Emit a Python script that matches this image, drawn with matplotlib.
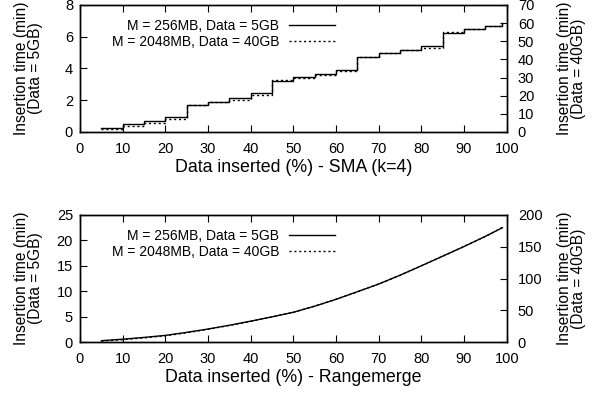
import numpy as np
import matplotlib
matplotlib.use('Agg')
import matplotlib.pyplot as plt

# Data inserted (%) at each measurement
pct = [5, 10, 15, 20, 25, 30, 35, 40, 45, 50, 55, 60, 65, 70, 75, 80, 85, 90, 95, 99]

# SMA (k=4): insertion time, minutes
sma_5gb = [0.27, 0.48, 0.67, 0.94, 1.70, 1.92, 2.12, 2.44, 3.23, 3.44,
           3.66, 3.91, 4.71, 4.96, 5.17, 5.42, 6.25, 6.47, 6.67, 6.88]
sma_40gb = [1.75, 3.15, 4.8, 7.2, 14.7, 16.5, 17.8, 20.4, 28.5, 30.0,
            31.6, 33.6, 41.5, 43.3, 45.0, 46.5, 55.0, 56.8, 58.5, 60.3]

# Rangemerge: insertion time, minutes
rm_5gb = [0.26, 0.55, 0.9, 1.3, 1.9, 2.55, 3.3, 4.1, 4.95, 5.85,
          7.05, 8.4, 9.9, 11.4, 13.15, 15.0, 16.9, 18.8, 20.8, 22.5]
rm_40gb = [1.5, 3.6, 6.5, 9.8, 14.5, 20.0, 26.0, 32.5, 39.5, 46.8,
           56.5, 67.3, 79.0, 91.5, 105.0, 120.0, 135.0, 150.5, 166.0, 180.5]

label_a = 'M = 256MB, Data = 5GB'
label_b = 'M = 2048MB, Data = 40GB'

plt.rcParams['font.family'] = ['Liberation Sans', 'DejaVu Sans']

fig = plt.figure(figsize=(5.97, 3.96), dpi=100)
W, H = 597.0, 396.0


def make_panel(top_px, y_left, y_right, ylim_l, yt_l, ylim_r, yt_r, xlabel, steps):
    ax = fig.add_axes([80 / W, 1 - (top_px + 127) / H, 426.7 / W, 127 / H])
    ax2 = ax.twinx()
    ds = 'steps-post' if steps else 'default'
    l1, = ax.plot(pct, y_left, color='black', lw=1.0, drawstyle=ds)
    l2, = ax2.plot(pct, y_right, color='black', lw=1.0, ls=(0, (1.5, 2)), drawstyle=ds)
    ax.set_xlim(0, 100)
    ax.set_xticks(range(0, 101, 10))
    ax.set_ylim(*ylim_l)
    ax.set_yticks(yt_l)
    ax2.set_ylim(*ylim_r)
    ax2.set_yticks(yt_r)
    ax.tick_params(axis='x', direction='in', length=5, width=0.8, top=True,
                   labelsize=10.5, pad=7)
    ax.tick_params(axis='y', direction='in', length=5, width=0.8,
                   labelsize=10.5, pad=5)
    ax2.tick_params(direction='in', length=5, width=0.8, labelsize=10.5, pad=8)
    for a in (ax, ax2):
        for s in a.spines.values():
            s.set_linewidth(1.0)
    ax.set_xlabel(xlabel, fontsize=12.8)
    ax.xaxis.set_label_coords(0.5, -0.215)
    ax.set_ylabel('Insertion time (min)\n(Data = 5GB)', fontsize=11.2, linespacing=0.9)
    ax.yaxis.set_label_coords(-0.087, 0.5)
    ax2.set_ylabel('Insertion time (min)\n(Data = 40GB)', fontsize=11.2, linespacing=0.9)
    ax2.yaxis.set_label_coords(1.118, 0.5)
    leg = ax2.legend([l1, l2], [label_a, label_b], loc='upper right',
                     bbox_to_anchor=(0.617, 0.955), frameon=False,
                     markerfirst=False, handlelength=3.3, fontsize=10,
                     labelspacing=0.15, handletextpad=0.7, borderaxespad=0.2)
    for t in leg.get_texts():
        t.set_ha('right')
    return ax, ax2


make_panel(5, sma_5gb, sma_40gb, (0, 8), range(0, 9, 2), (0, 70), range(0, 71, 10),
           'Data inserted (%) - SMA (k=4)', True)
make_panel(215, rm_5gb, rm_40gb, (0, 25), range(0, 26, 5), (0, 200), range(0, 201, 50),
           'Data inserted (%) - Rangemerge', False)

fig.savefig('out.png', dpi=100)
